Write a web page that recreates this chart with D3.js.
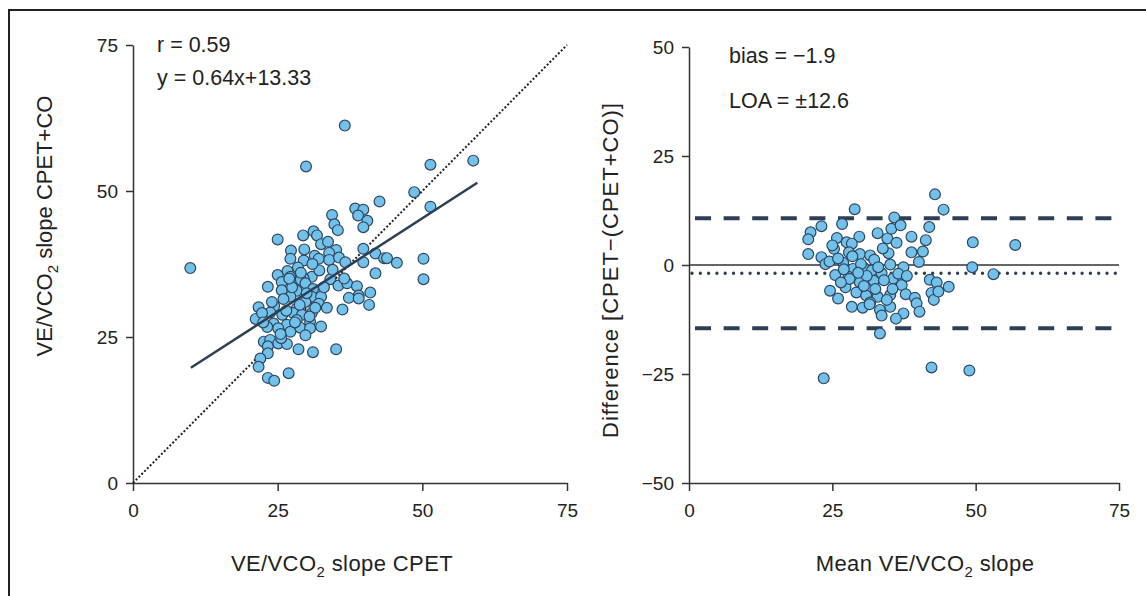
<!DOCTYPE html>
<html>
<head>
<meta charset="utf-8">
<script src="https://cdn.jsdelivr.net/npm/d3@7"></script>
<style>
  body { margin: 0; background: #fff; }
  svg { display: block; font-family: "Liberation Sans", Arial, sans-serif; }
  .axis path, .axis line { stroke: #333; stroke-width: 1.5; }
  .axis text { font-size: 19px; fill: #222; font-family: "Liberation Sans", Arial, sans-serif; }
</style>
</head>
<body>
<svg id="chart" width="1146" height="596"></svg>
<script>
// --- Data ---

const TICKS_X = [0, 25, 50, 75];
const TICKS_Y_LEFT = [0, 25, 50, 75];
const TICKS_Y_RIGHT = [-50, -25, 0, 25, 50];

// left panel: CPET slope vs CPET+CO slope
const cpet = [9.9, 36.6, 29.9, 51.4, 58.8, 48.6, 51.4, 42.6, 38.4, 39.8, 38.9, 40.5, 39.8, 34.4, 34.8, 35.4,
  31.2, 31.8, 29.4, 25.0, 32.5, 33.7, 35.1, 33.9, 29.6, 27.3, 31.4, 27.2, 29.5, 32.1, 33.9, 35.6, 36.7, 39.8,
  41.9, 39.8, 43.4, 43.9, 45.6, 50.2, 50.2, 41.9, 28.5, 26.7, 25.0, 30.9, 32.2, 29.5, 27.2, 25.7, 27.7, 29.0,
  29.8, 34.1, 35.5, 37.0, 38.7, 23.3, 25.7, 28.3, 31.1, 39.0, 41.0, 27.2, 30.9, 32.5, 37.3, 39.0, 29.8, 32.1,
  40.8, 21.7, 24.4, 28.3, 36.2, 23.7, 25.8, 27.7, 29.2, 30.9, 21.2, 22.3, 24.3, 26.6, 28.3, 30.6, 23.2, 25.1,
  27.2, 28.9, 30.6, 32.5, 29.8, 22.6, 23.7, 25.1, 26.6, 23.3, 28.6, 31.1, 35.1, 23.3, 22.0, 21.7, 26.9, 23.3,
  24.4, 25.6, 26.0, 27.5, 28.8, 30.0, 31.5, 33.0, 26.5, 24.0, 29.0, 31.0, 34.5, 33.5, 28.0, 22.5, 25.5, 36.5,
  30.5, 27.0];
const cpetCo = [36.8, 61.2, 54.2, 54.5, 55.2, 49.8, 47.3, 48.2, 47.0, 46.8, 45.8, 44.9, 43.8, 45.9, 44.3, 43.3,
  43.1, 42.4, 42.4, 41.7, 40.9, 41.3, 39.9, 39.4, 40.0, 39.8, 38.9, 38.4, 38.1, 38.4, 38.2, 38.6, 37.8, 40.1,
  39.3, 37.8, 38.5, 38.5, 37.7, 38.4, 34.9, 35.9, 36.9, 36.3, 35.6, 35.3, 36.4, 35.0, 35.3, 34.4, 34.2, 34.8,
  34.2, 34.9, 33.8, 34.2, 33.7, 33.6, 33.0, 32.9, 33.2, 32.1, 32.6, 31.9, 31.9, 31.9, 31.7, 31.6, 31.0, 30.7,
  30.5, 30.1, 30.3, 29.9, 29.7, 29.2, 28.8, 29.1, 28.8, 29.1, 28.1, 29.1, 27.3, 27.1, 27.9, 27.6, 26.7, 26.5,
  25.9, 26.6, 26.5, 26.8, 25.3, 24.2, 24.5, 23.9, 23.8, 23.4, 22.9, 22.4, 22.9, 22.2, 21.3, 19.9, 18.8, 18.0,
  17.5, 24.8, 31.5, 33.5, 30.5, 32.5, 30.0, 33.5, 29.5, 31.0, 36.0, 37.5, 36.5, 30.0, 27.5, 27.5, 25.5, 35.0,
  28.5, 35.0];

// regression y = 0.64x + 13.33 over the observed range, and identity line
const regX = [10, 59.5];
const regY = [19.73, 51.41];
const idLine = [0, 75];
const statsLeft = ["r = 0.59", "y = 0.64x+13.33"];

// right panel: Bland-Altman
const meanSlope = [42.9, 44.4, 28.9, 35.8, 23.1, 26.7, 21.2, 20.8, 25.8, 29.7, 27.5, 28.4, 32.9, 34.6, 35.3,
  36.9, 36.2, 38.8, 41.9, 41.3, 49.5, 56.9, 20.8, 23.1, 25.3, 27.9, 29.8, 31.6, 32.3, 34.8, 38.8, 40.8, 40.1,
  35.1, 37.4, 49.4, 53.1, 23.8, 26.9, 28.6, 30.4, 31.9, 33.6, 25.5, 27.8, 29.8, 32.2, 35.6, 37.1, 42.0, 43.2,
  45.3, 24.6, 26.0, 27.3, 29.2, 30.9, 32.9, 35.1, 37.8, 39.4, 42.3, 42.7, 43.5, 28.4, 30.3, 31.6, 33.3, 35.1,
  37.4, 36.1, 33.6, 39.7, 40.2, 33.3, 23.5, 42.3, 48.9, 24.5, 26.0, 28.5, 30.0, 31.0, 29.5, 27.0, 33.0, 34.0,
  32.5, 30.5, 28.0, 35.5, 36.5, 34.5, 31.5, 26.5, 38.0, 33.8, 25.0];
const diff = [16.2, 12.7, 12.8, 10.9, 8.9, 9.4, 7.5, 5.9, 6.2, 6.5, 5.2, 4.9, 7.3, 6.1, 8.3, 9.1, 5.1, 6.5,
  8.7, 5.7, 5.2, 4.6, 2.5, 1.8, 3.7, 2.9, 2.5, 2.2, 1.2, 2.7, 2.9, 3.1, 0.7, 0.1, -0.5, -0.5, -2.1, 0.2, 0.5,
  -0.9, -0.5, -1.3, -1.9, -2.3, -2.7, -4.0, -3.6, -3.1, -4.6, -3.4, -4.0, -5.0, -5.9, -7.7, -5.1, -6.3, -7.0,
  -7.3, -6.9, -6.7, -7.5, -6.4, -8.0, -6.1, -9.6, -9.8, -8.6, -10.3, -9.6, -11.1, -12.3, -11.6, -8.8, -10.7,
  -15.7, -26.0, -23.5, -24.2, 0.8, 1.5, 2.0, 0.2, -2.5, -1.8, -1.0, -0.5, -3.5, -5.5, -4.8, -3.2, -5.5, -2.0,
  -8.0, -9.0, -4.0, -2.5, 3.8, 4.5];

const bias = -1.9;
const loa = 12.6;
const statsRight = ["bias = \u22121.9", "LOA = \u00b112.6"];

// --- Style ---

const DOT_FILL = "#72c1ea";
const DOT_STROKE = "#2d4760";
const LINE_DARK = "#2c3f57";

// --- Setup ---

const svg = d3.select("#chart");

// frame round the figure
svg.append("rect")
  .attr("x", 9).attr("y", 10)
  .attr("width", 1200).attr("height", 700)
  .attr("fill", "none")
  .attr("stroke", "#222")
  .attr("stroke-width", 2);

const xL = d3.scaleLinear().domain([0, 75]).range([133, 567]);
const yL = d3.scaleLinear().domain([0, 75]).range([483, 45]);
const xR = d3.scaleLinear().domain([0, 75]).range([689, 1119]);
const yR = d3.scaleLinear().domain([-50, 50]).range([483, 47]);

function drawAxes(x, y, yTicks) {
  svg.append("g")
    .attr("class", "axis")
    .attr("transform", `translate(0,${y.range()[0]})`)
    .call(d3.axisBottom(x).tickValues(TICKS_X).tickSize(8).tickSizeOuter(0).tickPadding(13));
  svg.append("g")
    .attr("class", "axis")
    .attr("transform", `translate(${x.range()[0]},0)`)
    .call(d3.axisLeft(y).tickValues(yTicks).tickSize(7).tickSizeOuter(0).tickPadding(8));
}

function subLabel(sel, parts) {
  // parts: [text, isSub]
  parts.forEach(([t, sub], i) => {
    const ts = sel.append("tspan").text(t);
    if (sub) ts.attr("font-size", 15).attr("dy", 6);
    else if (i > 0 && parts[i - 1][1]) ts.attr("dy", -6);
  });
}

function dots(x, y, xs, ys) {
  svg.append("g")
    .selectAll("circle")
    .data(xs.map((v, i) => [v, ys[i]]))
    .join("circle")
    .attr("cx", (d) => x(d[0]))
    .attr("cy", (d) => y(d[1]))
    .attr("r", 5.4)
    .attr("fill", DOT_FILL)
    .attr("stroke", DOT_STROKE)
    .attr("stroke-width", 1.2);
}

// --- Left panel ---

drawAxes(xL, yL, TICKS_Y_LEFT);

svg.append("line")
  .attr("x1", xL(idLine[0])).attr("y1", yL(idLine[0]))
  .attr("x2", xL(idLine[1])).attr("y2", yL(idLine[1]))
  .attr("stroke", "#222")
  .attr("stroke-width", 2)
  .attr("stroke-dasharray", "2,2");

dots(xL, yL, cpet, cpetCo);

svg.append("line")
  .attr("x1", xL(regX[0])).attr("y1", yL(regY[0]))
  .attr("x2", xL(regX[1])).attr("y2", yL(regY[1]))
  .attr("stroke", LINE_DARK)
  .attr("stroke-width", 2.5);

svg.selectAll(".stat-left")
  .data(statsLeft)
  .join("text")
  .attr("x", 157)
  .attr("y", (d, i) => 52 + i * 33)
  .attr("font-size", 21.5)
  .attr("fill", "#222")
  .text((d) => d);

subLabel(svg.append("text")
  .attr("x", 342).attr("y", 571)
  .attr("text-anchor", "middle")
  .attr("font-size", 22).attr("letter-spacing", 0.4).attr("fill", "#222"),
  [["VE/VCO", false], ["2", true], [" slope CPET", false]]);

subLabel(svg.append("text")
  .attr("transform", "translate(52,226) rotate(-90)")
  .attr("text-anchor", "middle")
  .attr("font-size", 22).attr("fill", "#222"),
  [["VE/VCO", false], ["2", true], [" slope CPET+CO", false]]);

// --- Right panel ---

drawAxes(xR, yR, TICKS_Y_RIGHT);

svg.append("line")
  .attr("x1", xR(0)).attr("x2", xR(75))
  .attr("y1", yR(0)).attr("y2", yR(0))
  .attr("stroke", "#333")
  .attr("stroke-width", 1.5);

svg.append("line")
  .attr("x1", xR(0) + 3).attr("x2", xR(75))
  .attr("y1", yR(bias)).attr("y2", yR(bias))
  .attr("stroke", LINE_DARK)
  .attr("stroke-width", 3.4)
  .attr("stroke-linecap", "round")
  .attr("stroke-dasharray", "0,8.3");

svg.selectAll(".loa")
  .data([bias + loa, bias - loa])
  .join("line")
  .attr("x1", xR(0) + 6).attr("x2", xR(75))
  .attr("y1", (d) => yR(d)).attr("y2", (d) => yR(d))
  .attr("stroke", LINE_DARK)
  .attr("stroke-width", 4)
  .attr("stroke-dasharray", "16,12.6");

dots(xR, yR, meanSlope, diff);

svg.selectAll(".stat-right")
  .data(statsRight)
  .join("text")
  .attr("x", 729)
  .attr("y", (d, i) => 63 + i * 45)
  .attr("font-size", 21.5)
  .attr("fill", "#222")
  .text((d) => d);

subLabel(svg.append("text")
  .attr("x", 925).attr("y", 571)
  .attr("text-anchor", "middle")
  .attr("font-size", 22).attr("letter-spacing", 0.4).attr("fill", "#222"),
  [["Mean VE/VCO", false], ["2", true], [" slope", false]]);

svg.append("text")
  .attr("transform", "translate(618,270) rotate(-90)")
  .attr("text-anchor", "middle")
  .attr("font-size", 22).attr("letter-spacing", 1).attr("fill", "#222")
  .text("Difference [CPET\u2212(CPET+CO)]");
</script>
</body>
</html>
